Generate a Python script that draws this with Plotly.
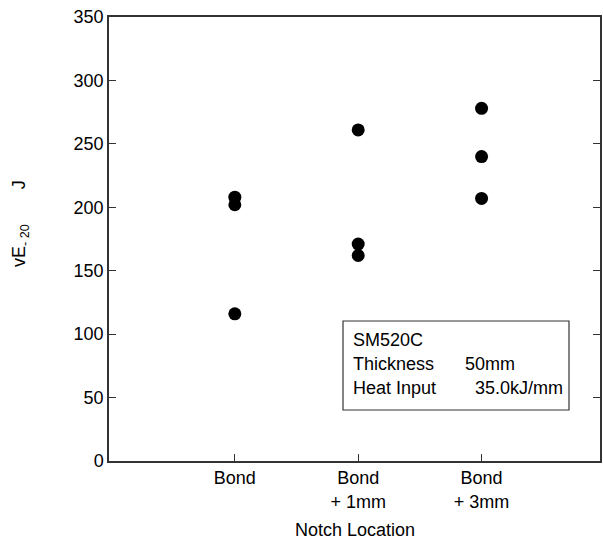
import plotly.graph_objects as go

categories = ["Bond", "Bond<br>+ 1mm", "Bond<br>+ 3mm"]
cat_pos = [1, 2, 3]
bond = [208, 202, 116]
bond_1mm = [261, 171, 162]
bond_3mm = [278, 240, 207]
y_ticks = [0, 50, 100, 150, 200, 250, 300, 350]

series = [bond, bond_1mm, bond_3mm]
xs, ys = [], []
for p, vals in zip(cat_pos, series):
    for v in vals:
        xs.append(p)
        ys.append(v)

font = "Liberation Sans, Arial, sans-serif"
FS = 18
fig = go.Figure()
fig.add_trace(go.Scatter(x=xs, y=ys, mode="markers",
                         marker=dict(color="black", size=13),
                         showlegend=False, hoverinfo="skip"))

fig.update_layout(
    width=603, height=543,
    margin=dict(l=109, r=3, t=17, b=82, autoexpand=False),
    plot_bgcolor="white", paper_bgcolor="white",
    font=dict(family=font, size=FS, color="black"),
    xaxis=dict(range=[-0.02, 3.96], tickvals=cat_pos, ticktext=categories,
               ticks="inside", ticklen=7, tickcolor="#333", showgrid=False,
               zeroline=False, showline=True, linecolor="#333", linewidth=1.5,
               mirror=True, tickfont=dict(size=FS, family=font, color="black")),
    yaxis=dict(range=[0, 350], tickvals=y_ticks, ticks="inside", ticklen=7,
               tickcolor="#333", showgrid=False, zeroline=False, showline=True,
               linecolor="#333", linewidth=1.5, mirror="ticks",
               tickfont=dict(size=FS, family=font, color="black")),
)

fig.add_annotation(x=0.5, y=-0.155, xref="paper", yref="paper",
                   text="Notch Location", showarrow=False,
                   font=dict(size=FS, family=font, color="black"),
                   xanchor="center", yanchor="middle")
fig.add_annotation(x=-0.18, y=0.535, xref="paper", yref="paper",
                   text="vE<sub>- 20</sub>       J", showarrow=False, textangle=-90,
                   font=dict(size=FS, family=font, color="black"),
                   xanchor="center", yanchor="middle")

# info box
fig.add_shape(type="rect", xref="paper", yref="paper",
              x0=(343-109)/491, x1=(569-109)/491,
              y0=(461-410)/444, y1=(461-321)/444,
              line=dict(color="#333", width=1.2), fillcolor="white")
box_lines = [("SM520C", None, 340), ("Thickness", "50mm", 364), ("Heat Input", "35.0kJ/mm", 388)]
for left, right, py in box_lines:
    fig.add_annotation(x=(351-109)/491, y=(461-py)/444, xref="paper", yref="paper",
                       text=left, showarrow=False, xanchor="left", yanchor="middle",
                       font=dict(size=FS, family=font, color="black"))
    if right:
        rx = 463 if right == "50mm" else 473
        fig.add_annotation(x=(rx-109)/491, y=(461-py)/444, xref="paper", yref="paper",
                           text=right, showarrow=False, xanchor="left", yanchor="middle",
                           font=dict(size=FS, family=font, color="black"))

fig.write_html("out.html", config={"displayModeBar": False},
               post_script="document.body.style.margin='0';")
